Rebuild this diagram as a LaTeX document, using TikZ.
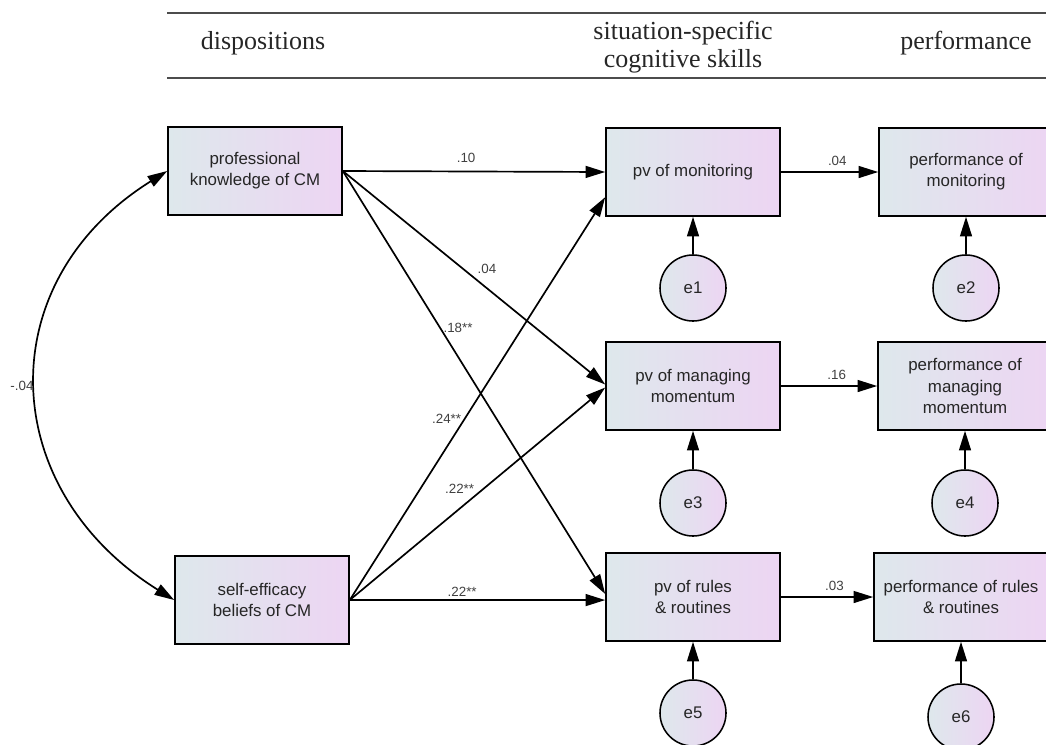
\documentclass[tikz,border=0pt]{standalone}
\usepackage{fontspec}
\newfontfamily\amosfont{Liberation Sans}
\newfontfamily\headfont{Liberation Serif}
\usetikzlibrary{arrows.meta}

\definecolor{boxleft}{RGB}{222,232,236}
\definecolor{boxright}{RGB}{237,213,243}

\begin{document}
\begin{tikzpicture}[
        x=0.025cm, y=0.025cm,
        observed/.style={rectangle, draw, line width=1.1pt, left color=boxleft, right color=boxright, minimum width=4.35cm, minimum height=2.2cm, inner sep=0pt, align=center, text=black!85, font=\amosfont\fontsize{12}{15}\selectfont},
        error/.style={circle, draw, line width=1.1pt, left color=boxleft, right color=boxright, minimum size=1.65cm, inner sep=0pt, text=black!85, font=\amosfont\fontsize{12}{15}\selectfont},
        reg_arrow/.style={-{Triangle[length=14pt,width=8.5pt]}, line width=1.2pt},
        cov_arrow/.style={{Triangle[length=14pt,width=8.5pt]}-{Triangle[length=14pt,width=8.5pt]}, line width=1.2pt},
        edge_label/.style={font=\amosfont\fontsize{9.5}{11}\selectfont, text=black!75, inner sep=2pt},
        header/.style={font=\headfont\fontsize{18.5}{20}\selectfont, align=center, text=black!85}
    ]
        \clip (0,0) rectangle (1046,-744);

        % Table head
        \draw[line width=0.9pt, black!70] (167,-13) -- (1046,-13);
        \draw[line width=0.9pt, black!70] (167,-78) -- (1046,-78);
        \node[header] (head_disp) at (263,-43) {dispositions};
        \node[header] (head_skills) at (683,-47) {situation-specific\\cognitive skills};
        \node[header] (head_perf) at (966,-43) {performance};

        % Dispositions
        \node[observed] (pk) at (255,-171) {professional\\knowledge of CM};
        \node[observed] (se) at (262,-600) {self-efficacy\\beliefs of CM};

        % Situation-specific skills
        \node[observed] (pvmon) at (693,-172) {pv of monitoring};
        \node[observed] (pvman) at (693,-386) {pv of managing\\momentum};
        \node[observed] (pvrules) at (693,-597) {pv of rules\\\& routines};

        % Performance
        \node[observed] (perfmon) at (966,-172) {performance of\\monitoring};
        \node[observed] (perfman) at (965,-386) {performance of\\managing\\momentum};
        \node[observed] (perfrules) at (961,-597) {performance of rules\\\& routines};

        % Residuals
        \node[error] (e1) at (693,-288) {e1};
        \node[error] (e2) at (966,-288) {e2};
        \node[error] (e3) at (693,-503) {e3};
        \node[error] (e4) at (965,-503) {e4};
        \node[error] (e5) at (693,-713) {e5};
        \node[error] (e6) at (961,-717) {e6};

        % Paths from dispositions
        \draw[reg_arrow] (pk.east) -- (pvmon.west) node[edge_label, pos=0.47, above=4pt] {.10};
        \draw[reg_arrow] (pk.east) -- (pvman.179) node[edge_label, pos=0.5, above right] {.04};
        \draw[reg_arrow] (pk.east) -- (pvrules.178) node[edge_label, pos=0.37, right] {.18**};
        \draw[reg_arrow] (se.east) -- (pvmon.196) node[edge_label, pos=0.45, left] {.24**};
        \draw[reg_arrow] (se.east) -- (pvman.181) node[edge_label, pos=0.43, above=8pt] {.22**};
        \draw[reg_arrow] (se.east) -- (pvrules.182) node[edge_label, pos=0.44, above] {.22**};

        % Paths to performance
        \draw[reg_arrow] (pvmon.east) -- (perfmon.west) node[edge_label, pos=0.58, above=2pt] {.04};
        \draw[reg_arrow] (pvman.east) -- (perfman.west) node[edge_label, pos=0.58, above=2pt] {.16};
        \draw[reg_arrow] (pvrules.east) -- (perfrules.west) node[edge_label, pos=0.58, above=2pt] {.03};

        % Residual arrows
        \draw[reg_arrow] (e1) -- (pvmon);
        \draw[reg_arrow] (e2) -- (perfmon);
        \draw[reg_arrow] (e3) -- (pvman);
        \draw[reg_arrow] (e4) -- (perfman);
        \draw[reg_arrow] (e5) -- (pvrules);
        \draw[reg_arrow] (e6) -- (perfrules);

        % Covariance
        \draw[cov_arrow] (pk.west) to[out=212, in=148, looseness=1.25] node[edge_label, pos=0.5, left] {-.04} (se.west);

    \end{tikzpicture}
\end{document}
